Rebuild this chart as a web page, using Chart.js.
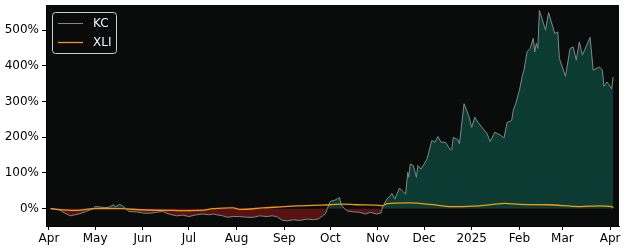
<!DOCTYPE html>
<html>
<head>
<meta charset="utf-8">
<script src="https://cdn.jsdelivr.net/npm/chart.js@4"></script>
<style>
  body { margin: 0; background: #fff; }
  #wrap { width: 625px; height: 250px; }
</style>
</head>
<body>
<div id="wrap"><canvas id="grafico" width="625" height="250"></canvas></div>
<script>
// days counted from 1 Apr 2024
const kcDays = [1, 7, 11, 14, 20, 24, 29, 30, 33, 36, 39, 42, 43, 46, 48, 50, 52, 57, 61, 65, 70, 74, 78, 83, 87, 91, 96, 100, 104, 107,
  109, 113, 116, 120, 124, 129, 133, 137, 142, 145, 148, 152, 155, 159, 163, 168, 172, 175, 178, 180, 181, 183, 186, 189, 190, 191, 192,
  194, 198, 202, 206, 209, 213, 216, 217, 220, 222, 223, 225, 228, 230, 232, 233.4, 234, 235, 237, 239, 240, 242, 244, 246, 249, 251, 253,
  255, 258, 261, 262, 263, 266, 267, 270, 273, 275, 277, 279, 282, 285, 287, 290, 294, 296, 298, 301, 302, 304, 305, 306, 308, 309, 311,
  313, 315, 316, 317, 318, 319, 321, 323, 325, 329, 331, 332, 336, 339, 341, 343, 345, 347, 352, 354, 358, 360, 361, 363, 366, 367];
const kcPct = [0, -4, -14, -20, -14, -8, 0, 6, 5, 3, 4, 11, 5, 12, 7, 0, -8, -9, -12, -13, -10, -8, -15, -20, -18, -22, -17, -15, -17, -15,
  -17, -20, -24, -22, -22, -24, -24, -20, -22, -20, -22, -33, -34, -31, -33, -29, -31, -29, -20, -13, 0, 20, 24, 31, 13, 6, 1,
  -6, -9, -10, -15, -10, -15, -12, 5, 28, 36, 43, 27, 58, 49, 41, 102, 88, 125, 121, 88, 121, 111, 125, 140, 191, 186, 202,
  186, 186, 165, 165, 200, 193, 182, 294, 261, 228, 256, 242, 226, 210, 188, 214, 205, 198, 241, 247, 275, 299, 317, 331, 374, 388, 439,
  449, 477, 439, 463, 449, 555, 528, 500, 549, 491, 495, 421, 371, 449, 453, 416, 467, 430, 480, 388, 397, 388, 343, 355, 336, 369];

const xliDays = [1, 16, 29, 48, 59, 81, 98, 107, 120, 124, 139, 161, 176, 183, 191, 200, 213, 217, 220, 235, 248, 262, 280, 296, 306, 325, 345, 358, 366, 367];
const xliPct = [0, -5, 0, 0, -3, -5, -5, 0, 2, -2, 2, 8, 10, 11, 13, 11, 10, 8, 14, 16, 12, 6, 8, 15, 12, 11, 6, 8, 6, 2];

const tickDays = [0, 30, 61, 91, 122, 153, 183, 214, 244, 275, 306, 334, 365];
const tickLabels = ["Apr", "May", "Jun", "Jul", "Aug", "Sep", "Oct", "Nov", "Dec", "2025", "Feb", "Mar", "Apr"];
const yTicks = [0, 100, 200, 300, 400, 500];

const fondo = "#0a0b0b";
const colorKC = "#7c8a88";
const colorXLI = "#f59a0c";

const fondoPlugin = {
  id: "fondo",
  beforeDraw(chart) {
    const { ctx, chartArea: a } = chart;
    ctx.save();
    ctx.fillStyle = fondo;
    ctx.fillRect(a.left, a.top, a.right - a.left, a.bottom - a.top);
    ctx.restore();
  }
};

const leyendaPlugin = {
  id: "leyenda",
  afterDraw(chart) {
    const ctx = chart.ctx;
    ctx.save();
    ctx.beginPath();
    ctx.roundRect(52.5, 12.5, 64, 41, 3);
    ctx.fillStyle = "rgba(10,11,11,0.85)";
    ctx.fill();
    ctx.strokeStyle = "#cfcfcf";
    ctx.lineWidth = 1;
    ctx.stroke();
    const items = chart.data.datasets;
    const ys = [23.5, 42.5];
    items.forEach((d, i) => {
      ctx.beginPath();
      ctx.moveTo(58, ys[i]);
      ctx.lineTo(83, ys[i]);
      ctx.strokeStyle = d.borderColor;
      ctx.lineWidth = d.borderWidth;
      ctx.stroke();
      ctx.fillStyle = "#eef2fa";
      ctx.font = "12px 'DejaVu Sans'";
      ctx.textBaseline = "middle";
      ctx.fillText(d.label, 93, ys[i] + 0.5);
    });
    ctx.restore();
  }
};

const ctx = document.getElementById("grafico").getContext("2d");
new Chart(ctx, {
  type: "line",
  data: {
    datasets: [{
      label: "KC",
      data: kcDays.map((d, i) => ({ x: d, y: kcPct[i] })),
      borderColor: colorKC,
      borderWidth: 1,
      pointRadius: 0,
      tension: 0,
      order: 1,
      fill: { target: { value: 0 }, above: "#0c3b33", below: "#5a1111" }
    }, {
      label: "XLI",
      data: xliDays.map((d, i) => ({ x: d, y: xliPct[i] })),
      borderColor: colorXLI,
      borderWidth: 1.3,
      pointRadius: 0,
      tension: 0.3,
      order: 0,
      fill: false
    }]
  },
  options: {
    responsive: false,
    animation: false,
    layout: { padding: { top: 5, right: 6, left: 0, bottom: 0 } },
    plugins: { legend: { display: false }, tooltip: { enabled: false } },
    scales: {
      x: {
        type: "linear",
        min: -1.95,
        max: 370.8,
        afterBuildTicks: (scale) => { scale.ticks = tickDays.map(v => ({ value: v })); },
        afterFit: (scale) => {
          scale.height = 24;
          scale.paddingLeft = 0;
          scale.paddingRight = 0;
        },
        ticks: {
          autoSkip: false,
          maxRotation: 0,
          padding: 2,
          color: "#000",
          font: { family: "DejaVu Sans", size: 12 },
          callback: (v) => tickLabels[tickDays.indexOf(v)]
        },
        grid: { drawOnChartArea: false, tickLength: 4, color: "#000" },
        border: { color: "#000" }
      },
      y: {
        min: -48.5,
        max: 570.5,
        afterBuildTicks: (scale) => { scale.ticks = yTicks.map(v => ({ value: v })); },
        afterFit: (scale) => {
          scale.width = 46;
          scale.paddingTop = 0;
          scale.paddingBottom = 0;
        },
        ticks: {
          padding: 3,
          color: "#000",
          font: { family: "DejaVu Sans", size: 12 },
          callback: (v) => v + "%"
        },
        grid: { drawOnChartArea: false, tickLength: 4, color: "#000" },
        border: { color: "#000" }
      }
    }
  },
  plugins: [fondoPlugin, leyendaPlugin]
});
</script>
</body>
</html>
